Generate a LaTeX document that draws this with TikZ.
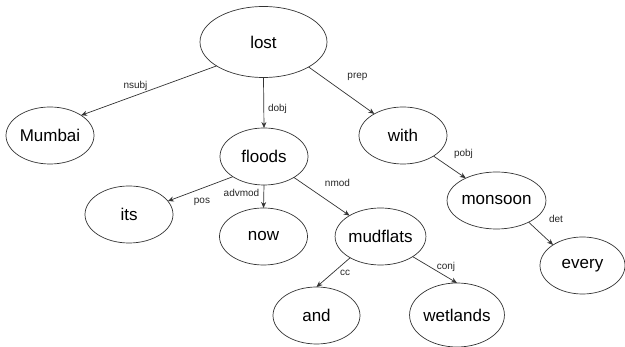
\documentclass[tikz,border=0pt]{standalone}
\usepackage{fontspec}
\setmainfont{Liberation Sans}
\usetikzlibrary{arrows.meta, shapes.geometric}

\begin{document}
\begin{tikzpicture}[x=1pt, y=-1pt,
  word/.style={draw=black!80, ellipse, line width=0.7pt, inner sep=0pt, outer sep=0pt,
    minimum width=88pt, minimum height=57pt, font=\fontsize{17}{20}\selectfont},
  lbl/.style={inner sep=0pt, text=black!85, font=\fontsize{10}{12}\selectfont},
  dep/.style={draw=black!80, line width=0.7pt, -{Stealth[length=6pt, width=5pt]}}]

  \useasboundingbox (0,0) rectangle (625,347);

  % words of the sentence
  \node[word, minimum width=127pt, minimum height=71pt] (lost) at (263.5,42) {lost};
  \node[word] (mumbai) at (50,135.5) {Mumbai};
  \node[word] (floods) at (264,156.5) {floods};
  \node[word] (with) at (403,135.5) {with};
  \node[word] (its) at (129,214.5) {its};
  \node[word] (now) at (263.5,236.5) {now};
  \node[word] (mudflats) at (380.5,236.5) {mudflats};
  \node[word] (monsoon) at (496.5,200.5) {monsoon};
  \node[word, minimum width=85pt] (every) at (582.5,265.5) {every};
  \node[word, minimum width=87pt] (and) at (316.5,315.5) {and};
  \node[word, minimum width=94pt, minimum height=64pt] (wetlands) at (457,315) {wetlands};

  % dependency arrows
  \draw[dep] (lost.207) -- (mumbai.33);
  \draw[dep] (lost.south) -- (floods.north);
  \draw[dep] (lost.331) -- (with.143);
  \draw[dep] (with.326) -- (monsoon.144);
  \draw[dep] (monsoon.326) -- (every.145);
  \draw[dep] (floods.213) -- (its.19);
  \draw[dep] (floods.south) -- (now.north);
  \draw[dep] (floods.325) -- (mudflats.146);
  \draw[dep] (mudflats.215) -- (and.north);
  \draw[dep] (mudflats.328) -- (wetlands.north);

  % relation labels
  \node[lbl] (l-nsubj) at (135.5,86) {nsubj};
  \node[lbl] (l-dobj) at (277.5,109) {dobj};
  \node[lbl] (l-prep) at (357.5,77) {prep};
  \node[lbl] (l-pobj) at (463.5,154) {pobj};
  \node[lbl] (l-det) at (556,219) {det};
  \node[lbl] (l-pos) at (202,202) {pos};
  \node[lbl] (l-advmod) at (241.5,193) {advmod};
  \node[lbl] (l-nmod) at (337.5,183) {nmod};
  \node[lbl] (l-cc) at (345,273) {cc};
  \node[lbl] (l-conj) at (446,267) {conj};

\end{tikzpicture}
\end{document}
